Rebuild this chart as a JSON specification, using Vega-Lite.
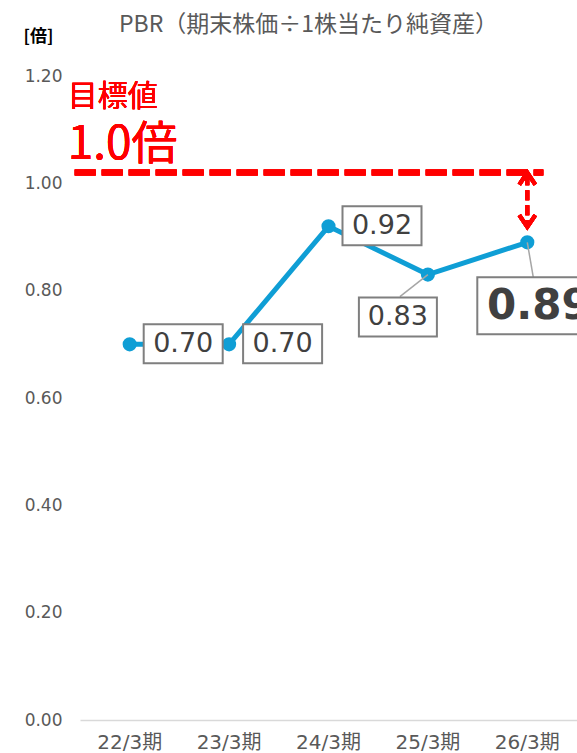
{
  "$schema": "https://vega.github.io/schema/vega-lite/v6.json",
  "width": 504,
  "height": 644,
  "autosize": {"type": "none"},
  "padding": {"left": 73, "top": 76, "right": 0, "bottom": 33},
  "background": "white",
  "config": {"view": {"stroke": null}},
  "title": {
    "text": "PBR（期末株価÷1株当たり純資産）",
    "anchor": "start",
    "frame": "group",
    "dx": 46,
    "offset": -10,
    "font": "Noto Sans CJK JP",
    "fontSize": 23,
    "fontWeight": "normal",
    "color": "#595959"
  },
  "data": {
    "values": [
      {"period": "22/3期", "pbr": 0.70},
      {"period": "23/3期", "pbr": 0.70},
      {"period": "24/3期", "pbr": 0.92},
      {"period": "25/3期", "pbr": 0.83},
      {"period": "26/3期", "pbr": 0.89}
    ]
  },
  "encoding": {
    "x": {
      "field": "period",
      "type": "ordinal",
      "sort": null,
      "scale": {"type": "band", "domain": ["22/3期", "23/3期", "24/3期", "25/3期", "26/3期"], "range": [7, 504], "paddingInner": 0, "paddingOuter": 0},
      "axis": {
        "title": null,
        "labelAngle": 0,
        "ticks": false,
        "grid": false,
        "domainColor": "#d9d9d9",
        "domainWidth": 1.5,
        "labelPadding": 12,
        "labelFont": "DejaVu Sans, Noto Sans CJK JP",
        "labelFontSize": 20,
        "labelColor": "#595959"
      }
    },
    "y": {
      "field": "pbr",
      "type": "quantitative",
      "scale": {"domain": [0, 1.2], "nice": false},
      "axis": {
        "values": [0, 0.2, 0.4, 0.6, 0.8, 1.0, 1.2],
        "format": ".2f",
        "grid": false,
        "ticks": false,
        "domain": false,
        "labelPadding": 11,
        "labelFont": "DejaVu Sans",
        "labelFontSize": 17,
        "labelColor": "#595959",
        "title": "[倍]",
        "titleAngle": 0,
        "titleAlign": "left",
        "titleBaseline": "alphabetic",
        "titleX": -50,
        "titleY": -35,
        "titleFont": "Noto Sans CJK JP",
        "titleFontSize": 17,
        "titleFontWeight": "bold",
        "titleColor": "#000000"
      }
    }
  },
  "layer": [
    {
      "mark": {"type": "rule", "color": "#ff0000", "strokeWidth": 6, "strokeDash": [21, 6], "xOffset": -55, "x2Offset": 16},
      "encoding": {
        "x": {"datum": "22/3期"},
        "x2": {"datum": "26/3期"},
        "y": {"datum": 1.02}
      }
    },
    {
      "mark": {"type": "rule", "color": "#ff0000", "strokeWidth": 4, "strokeDash": [10, 5]},
      "encoding": {
        "x": {"datum": "26/3期"},
        "y": {"datum": 1.015},
        "y2": {"datum": 0.922}
      }
    },
    {
      "mark": {"type": "point", "shape": "M-8,12L0,0L8,12", "size": 4, "filled": false, "stroke": "#ff0000", "strokeWidth": 4, "opacity": 1},
      "encoding": {"x": {"datum": "26/3期"}, "y": {"datum": 1.02}}
    },
    {
      "mark": {"type": "point", "shape": "M-8,-12L0,0L8,-12", "size": 4, "filled": false, "stroke": "#ff0000", "strokeWidth": 4, "opacity": 1},
      "encoding": {"x": {"datum": "26/3期"}, "y": {"datum": 0.9186}}
    },
    {
      "mark": {"type": "text", "text": "目標値", "font": "Noto Sans CJK JP", "fontSize": 30, "color": "#ff0000", "align": "left", "baseline": "alphabetic", "dx": -62, "dy": -67},
      "encoding": {"x": {"datum": "22/3期"}, "y": {"datum": 1.02}}
    },
    {
      "mark": {"type": "text", "text": "1.0倍", "font": "Noto Sans CJK JP", "fontSize": 46, "color": "#ff0000", "align": "left", "baseline": "alphabetic", "dx": -62, "dy": -14},
      "encoding": {"x": {"datum": "22/3期"}, "y": {"datum": 1.02}}
    },
    {
      "mark": {"type": "line", "color": "#0f9ed5", "strokeWidth": 5}
    },
    {
      "mark": {"type": "point", "filled": true, "color": "#0f9ed5", "size": 200, "opacity": 1}
    },
    {
      "transform": [{"filter": "datum.period == '25/3期'"}],
      "mark": {"type": "rule", "color": "#a6a6a6", "strokeWidth": 1.5, "x2Offset": -28, "y2Offset": 22},
      "encoding": {"x2": {"field": "period"}, "y2": {"field": "pbr"}}
    },
    {
      "transform": [{"filter": "datum.period == '26/3期'"}],
      "mark": {"type": "rule", "color": "#a6a6a6", "strokeWidth": 1.5, "x2Offset": 6, "y2Offset": 35},
      "encoding": {"x2": {"field": "period"}, "y2": {"field": "pbr"}}
    },
    {
      "transform": [{"filter": "datum.period == '22/3期' || datum.period == '23/3期' || datum.period == '24/3期'"}],
      "mark": {"type": "point", "shape": "M14,-20H93V19H14Z", "size": 4, "filled": true, "fill": "#ffffff", "stroke": "#7f7f7f", "strokeWidth": 2, "opacity": 1}
    },
    {
      "transform": [{"filter": "datum.period == '25/3期'"}],
      "mark": {"type": "point", "shape": "M-69,23H9V62H-69Z", "size": 4, "filled": true, "fill": "#ffffff", "stroke": "#7f7f7f", "strokeWidth": 2, "opacity": 1}
    },
    {
      "transform": [{"filter": "datum.period == '26/3期'"}],
      "mark": {"type": "point", "shape": "M-50,35H74V92H-50Z", "size": 4, "filled": true, "fill": "#ffffff", "stroke": "#7f7f7f", "strokeWidth": 2, "opacity": 1}
    },
    {
      "transform": [{"filter": "datum.period == '22/3期' || datum.period == '23/3期' || datum.period == '24/3期'"}],
      "mark": {"type": "text", "font": "DejaVu Sans", "fontSize": 27, "color": "#404040", "align": "center", "baseline": "middle", "dx": 53.5, "dy": 0},
      "encoding": {"text": {"field": "pbr", "type": "quantitative", "format": ".2f"}}
    },
    {
      "transform": [{"filter": "datum.period == '25/3期'"}],
      "mark": {"type": "text", "font": "DejaVu Sans", "fontSize": 27, "color": "#404040", "align": "center", "baseline": "middle", "dx": -30, "dy": 42.5},
      "encoding": {"text": {"field": "pbr", "type": "quantitative", "format": ".2f"}}
    },
    {
      "transform": [{"filter": "datum.period == '26/3期'"}],
      "mark": {"type": "text", "font": "DejaVu Sans", "fontSize": 42, "fontWeight": "bold", "color": "#404040", "align": "center", "baseline": "middle", "dx": 11.5, "dy": 63.5},
      "encoding": {"text": {"field": "pbr", "type": "quantitative", "format": ".2f"}}
    }
  ]
}
